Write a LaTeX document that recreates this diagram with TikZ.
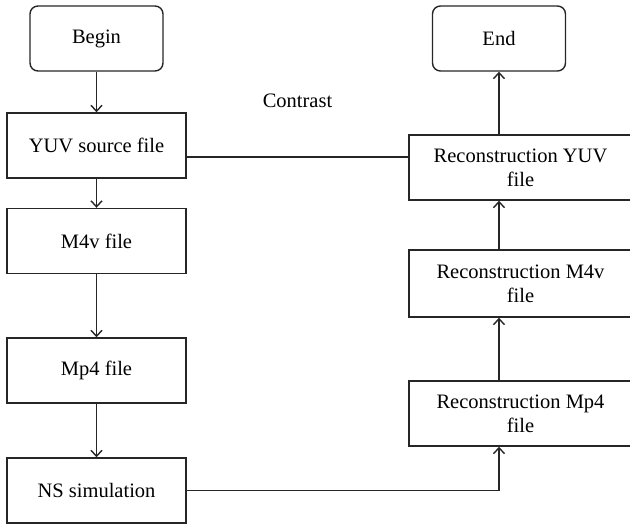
\documentclass[tikz,border=0pt]{standalone}
\usepackage{fontspec}
\setmainfont{Liberation Serif}
\usetikzlibrary{arrows.meta,calc}
\begin{document}
\begin{tikzpicture}[x=1pt,y=-1pt,
  lbl/.style={font=\fontsize{20.5}{24}\selectfont},
  box/.style={lbl,draw=black!85,line width=1.4pt,inner sep=0pt,align=center},
  lbox/.style={box,minimum width=179pt,minimum height=65pt},
  rbox/.style={box,minimum width=223pt,minimum height=65pt},
  term/.style={box,rounded corners=8pt,minimum width=133pt,minimum height=65pt},
  conn/.style={draw=black!85,line width=1.4pt},
  arr/.style={conn,-{Straight Barb[length=6pt,width=11pt]}}]
\useasboundingbox (0,0) rectangle (630,524);
\clip (0,0) rectangle (630,524);
\node[term] (begin) at (96.5,38.5) {Begin};
\node[lbox] (yuv) at (96.5,145.5) {YUV source file};
\node[lbox] (m4v) at (96.5,241) {M4v file};
\node[lbox] (mp4) at (96.5,370.5) {Mp4 file};
\node[lbox] (ns) at (96.5,490.5) {NS simulation};
\node[term] (end) at (499,38.5) {End};
\node[rbox] (ryuv) at (520.5,167.5) {Reconstruction YUV\\file};
\node[rbox,minimum height=67pt] (rm4v) at (520.5,283.5) {Reconstruction M4v\\file};
\node[rbox] (rmp4) at (520.5,413.5) {Reconstruction Mp4\\file};
\node[lbl] (contrast) at (297.5,101) {Contrast};
\draw[arr] (begin) -- (yuv);
\draw[arr] (yuv) -- (m4v);
\draw[arr] (m4v) -- (mp4);
\draw[arr] (mp4) -- (ns);
\draw[arr] (ns.east) -| (rmp4.south -| end.south);
\draw[arr] (rmp4.north -| end.south) -- (rm4v.south -| end.south);
\draw[arr] (rm4v.north -| end.south) -- (ryuv.south -| end.south);
\draw[arr] (ryuv.north -| end.south) -- (end.south);
\draw[conn] ([yshift=-11.5pt]yuv.east) -- ([yshift=10.5pt]ryuv.west);
\end{tikzpicture}
\end{document}
